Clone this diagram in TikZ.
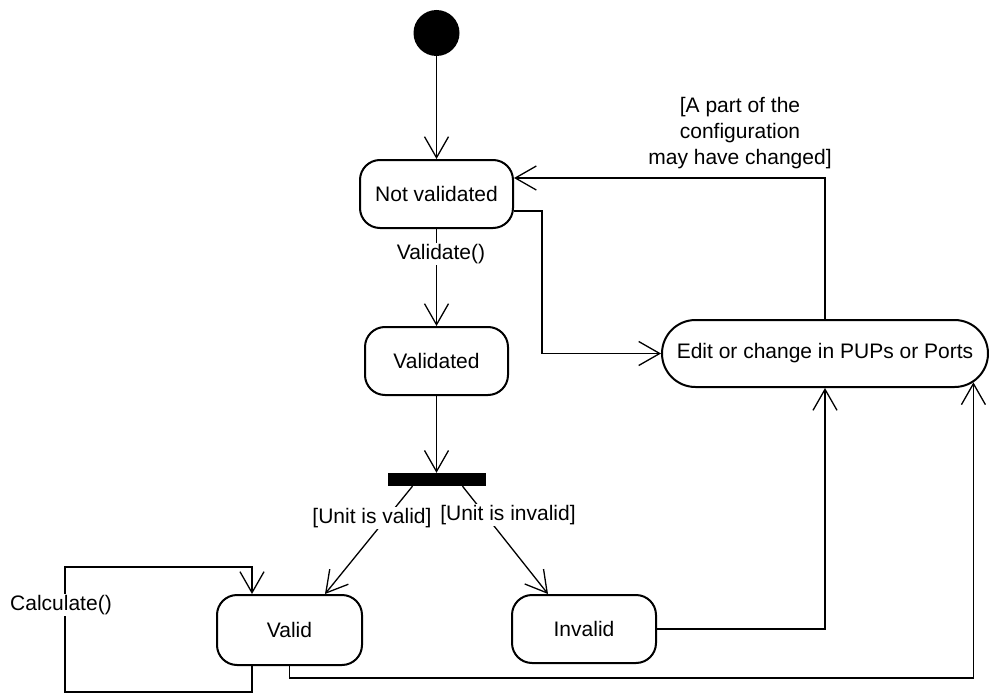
\documentclass[tikz,border=0pt]{standalone}
\usepackage{fontspec}
\setmainfont{Liberation Sans}
\usetikzlibrary{arrows.meta,shapes.misc}
\begin{document}
\begin{tikzpicture}[x=1pt,y=-1pt,
  every node/.style={font=\fontsize{21}{26}\selectfont},
  state/.style={draw, line width=2pt, rounded corners=20pt,
    minimum width=#1, minimum height=68pt, inner sep=0pt},
  conn/.style={line width=1.3pt, -{Straight Barb[length=21pt,width=24pt]}},
  plain/.style={line width=1.3pt},
  lbl/.style={fill=white, inner sep=1.5pt}
]
\useasboundingbox (0,0) rectangle (989,693);

% states
\node[circle, fill, minimum size=46pt, inner sep=0pt] (start) at (436.5,33) {};
\node[state=153pt] (nv) at (436.5,194) {Not validated};
\node[state=143pt] (vd) at (436.5,361) {Validated};
\node[fill, minimum width=98pt, minimum height=13pt, inner sep=0pt] (bar) at (436.5,479.5) {};
\node[state=145pt, minimum height=70pt] (valid) at (289.5,630) {Valid};
\node[state=144pt] (inv) at (584,629) {Invalid};
\node[draw, rounded rectangle, line width=2pt, minimum width=326pt,
  minimum height=67pt, inner sep=0pt] (edit) at (825,353.5) {Edit or change in PUPs or Ports};

% transitions
\draw[conn] (start.south) -- (nv.north);
\draw[conn] (nv.south) -- (vd.north);
\draw[conn] (vd.south) -- (bar.north);
\draw[conn] ([yshift=-17pt]nv.east) -- ++(28,0) |- (edit.west);
\draw[conn] (edit.north) |- ([yshift=16pt]nv.east);
\draw[conn] ([xshift=-24pt]bar.south) -- ([xshift=35.5pt]valid.north);
\draw[conn] ([xshift=26pt]bar.south) -- ([xshift=-36pt]inv.north);
\draw[conn] (inv.east) -| (edit.south);
\draw[conn] (valid.south) -- ++(0,12) -| (edit.-11.8);

% self transition on Valid
\coordinate (loopbl) at (65,692);
\coordinate (looptl) at (65,567);
\draw[conn] ([xshift=-37.5pt]valid.south) |- (loopbl) -- (looptl)
  -| ([xshift=-37.5pt]valid.north);

% guards and events
\node[lbl] (lvalidate) at (441,254) {Validate()};
\node[lbl] (lvalid) at (372,518) {[Unit is valid]};
\node[lbl] (linvalid) at (508,515) {[Unit is invalid]};
\node[lbl] (lcalc) at (61,605) {Calculate()};
\node[align=center] (lchanged) at (740,133) {[A part of the\\configuration\\may have changed]};
\end{tikzpicture}
\end{document}
